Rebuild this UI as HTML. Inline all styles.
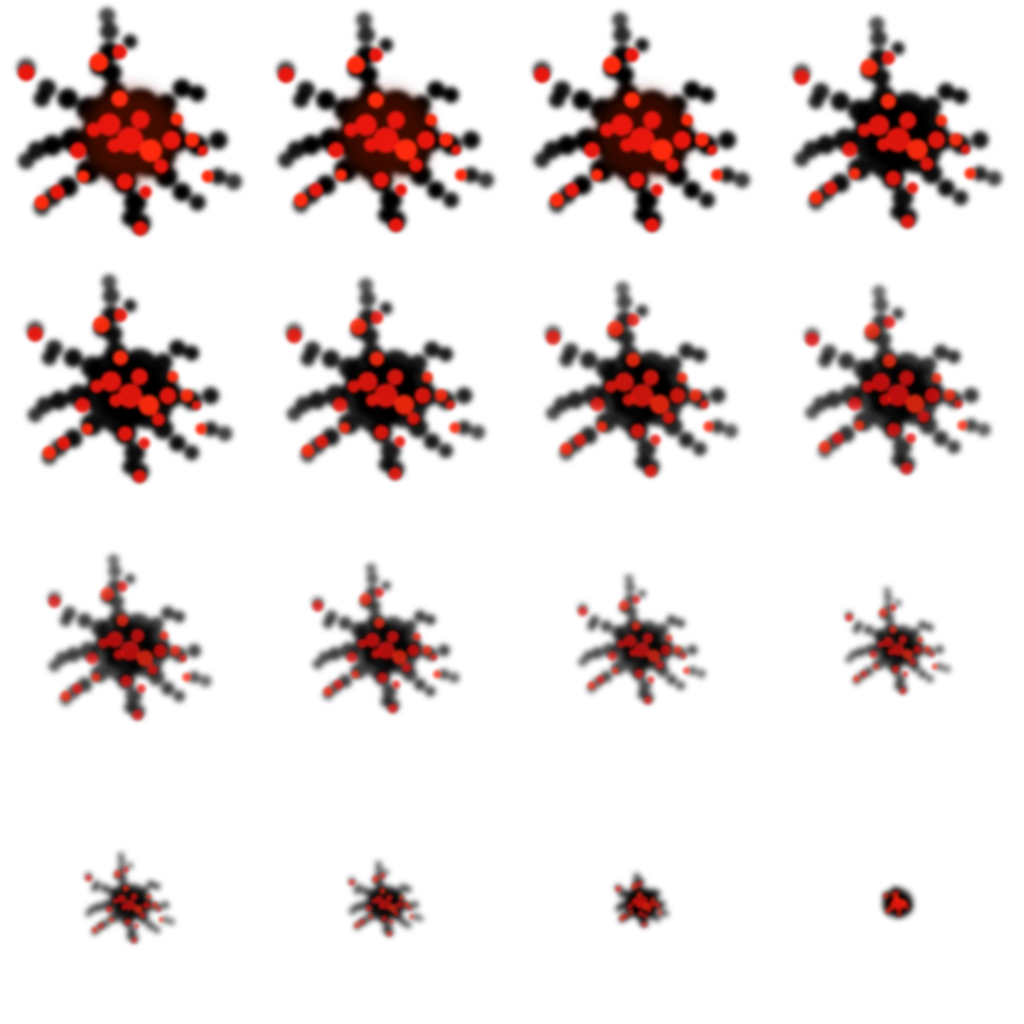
<!DOCTYPE html>
<html><head><meta charset="utf-8">
<style>
html,body{margin:0;padding:0;background:#fff;width:1024px;height:1024px;overflow:hidden}
svg{display:block}
</style></head>
<body>
<svg id="chart" width="1024" height="1024" viewBox="0 0 1024 1024" xmlns="http://www.w3.org/2000/svg">
<defs>
<filter id="blur" x="-50%" y="-50%" width="200%" height="200%"><feGaussianBlur stdDeviation="3"/></filter>
<filter id="blur2" x="-50%" y="-50%" width="200%" height="200%"><feGaussianBlur stdDeviation="1.5"/></filter>
<filter id="blur3" x="-50%" y="-50%" width="200%" height="200%"><feGaussianBlur stdDeviation="8"/></filter>
</defs>
</svg>
<script>
// panel extent and intensity, row-major
const panelExtent = [140,135,135,130,128,124,120,116,102,92,80,66,56,46,32,16];
const panelIntensity = [1,1,1,0.95,0.95,0.9,0.85,0.8,0.75,0.75,0.7,0.7,0.7,0.65,0.65,0.6];
// reddish core strength per panel
const coreRed = [0.55,0.5,0.45,0,0,0,0,0,0,0,0,0,0,0,0,0];
// dark blobs: x, y, r (relative to panel origin)
const blobX = [130,110,150,160,120,100,140, 115,112,110,110,108,130,100, 90,70,50,30,45, 75,55,40,30, 90,70,55,45, 125,135,140,130, 165,180,195, 175,195,215,230,215, 165,180,195];
const blobY = [135,120,150,130,160,140,110, 95,75,55,35,20,45,70, 110,100,90,70,100, 140,145,150,160, 170,185,195,205, 180,200,220,215, 175,190,200, 140,145,140,180,175, 105,90,95];
const blobR = [35,25,25,20,22,20,20, 12,10,10,9,8,7,8, 12,10,9,9,8, 12,10,9,8, 12,10,9,8, 12,11,10,8, 11,9,8, 12,10,9,8,8, 10,9,8];
// red blobs
const redX = [100,120,30,45,140,130,150,110,170,190,80,125,205,60,140,120,95,160,175,115,145,85,200];
const redY = [65,55,75,200,225,140,150,125,140,140,150,180,175,190,120,100,130,165,120,145,190,175,150];
const redR = [9,7,8,7,7,13,11,11,9,7,8,8,6,7,9,8,7,7,6,7,6,6,5];
const CX = 130, CY = 135, PANEL = 256;
const svg = document.getElementById('chart');
const NS = 'http://www.w3.org/2000/svg';
for (let p = 0; p < 16; p++) {
  const col = p % 4, row = Math.floor(p / 4);
  const ox = col * PANEL, oy = row * PANEL;
  const ext = panelExtent[p], inten = panelIntensity[p];
  const s = ext / 135;
  const g = document.createElementNS(NS, 'g');
  
  
  const gd = document.createElementNS(NS, 'g');
  gd.setAttribute('filter', 'url(#blur)');
  for (let i = 0; i < blobX.length; i++) {
    const dx = blobX[i] - CX, dy = blobY[i] - CY;
    const d = Math.sqrt(dx*dx + dy*dy);
    const x = CX + dx * s, y = CY + dy * s;
    const r = Math.max(2.5, blobR[i] * Math.max(0.45, s));
    let op = inten * (1 - Math.max(0, (d - 0.6*135)) / (0.6*135) * 0.6);
    const c = document.createElementNS(NS, 'circle');
    
    
    c.setAttribute('cx', ox + x);
    c.setAttribute('cy', oy + y);
    c.setAttribute('r', r);
    c.setAttribute('fill', '#000');
    c.setAttribute('opacity', Math.max(0.15, Math.min(1, op)).toFixed(2));
    gd.appendChild(c);
  }
  g.appendChild(gd);
  if (coreRed[p] > 0) {
    const core = document.createElementNS(NS, 'circle');
    
    
    core.setAttribute('cx', ox + CX);
    core.setAttribute('cy', oy + CY);
    core.setAttribute('r', 45 * s);
    core.setAttribute('fill', '#7a1206');
    core.setAttribute('opacity', coreRed[p]);
    core.setAttribute('filter', 'url(#blur3)');
    g.appendChild(core);
  }
  const gr = document.createElementNS(NS, 'g');
  gr.setAttribute('filter', 'url(#blur2)');
  for (let i = 0; i < redX.length; i++) {
    const x = CX + (redX[i] - CX) * s, y = CY + (redY[i] - CY) * s;
    const c = document.createElementNS(NS, 'circle');
    
    
    c.setAttribute('cx', ox + x);
    c.setAttribute('cy', oy + y);
    c.setAttribute('r', Math.max(1.5, redR[i] * Math.max(0.4, s)));
    c.setAttribute('fill', i % 3 === 0 ? '#ff2a10' : '#e8140a');
    c.setAttribute('opacity', inten.toFixed(2));
    gr.appendChild(c);
  }
  g.appendChild(gr);
  svg.appendChild(g);
}
</script>
</body></html>
